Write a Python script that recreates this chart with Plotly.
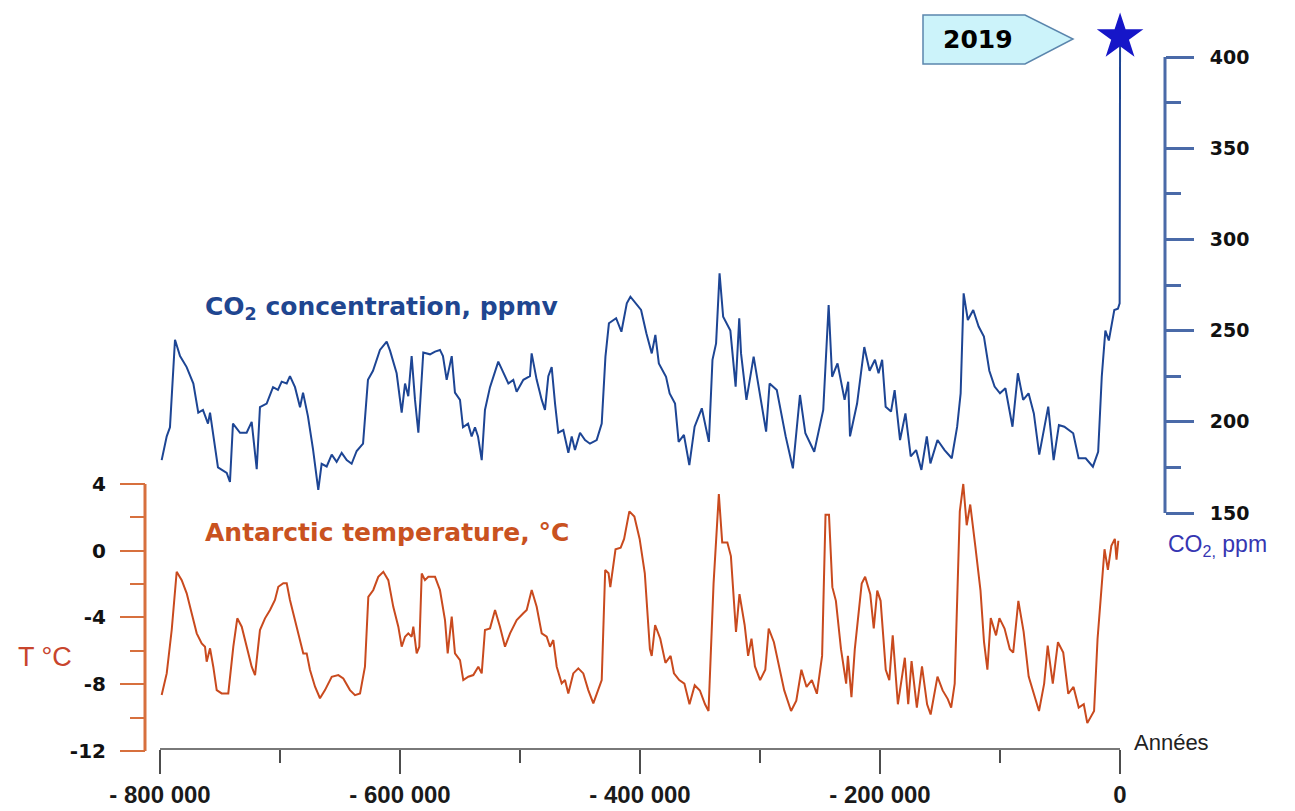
import plotly.graph_objects as go

# ---------------------------------------------------------------------------
# Data: ice-core records, age in thousands of years relative to present
# ---------------------------------------------------------------------------
co2_kyr = [
    -798.6, -794.4, -791.7, -787.5, -783.3, -777.8, -772.2, -768.1, -764.2, -760,
    -758.3, -755.8, -751.7, -744.4, -741.7, -739.2, -733.3, -727.8, -723.6, -719.4,
    -716.7, -711.1, -705.8, -701.7, -698.6, -694.4, -691.7, -687.5, -683.3, -680.8,
    -676.7, -672.5, -668.1, -665.3, -661.1, -656.9, -652.8, -648.6, -644.4, -640.3,
    -636.1, -630.8, -626.7, -622.5, -616.7, -611.1, -608.3, -602.8, -598.6, -595.8,
    -593.1, -590.3, -587.5, -584.7, -580.6, -575, -570.8, -566.7, -564.2, -561.1,
    -556.9, -554.2, -550, -547.5, -543.3, -540.3, -537.5, -535, -531.9, -529.2,
    -525, -518.1, -513.9, -509.7, -505.6, -502.8, -497.2, -491.7, -490.3, -486.1,
    -481.9, -479.2, -476.4, -473.6, -470.8, -468.1, -463.9, -459.7, -456.9, -454.2,
    -450, -445.8, -441.7, -436.1, -431.9,
    -428.8, -425.9, -419.9, -415.5, -411, -408, -403.6, -399.1, -394.7, -390.2,
    -387.2, -384.3, -378.3, -375.3, -370.8, -367.8, -363.4, -358.9, -354.5, -348.5,
    -342.6, -339.6, -336.6, -333.7, -330.7, -324.7, -320.3, -317.3, -315.8, -311.3,
    -305.3, -302.4, -294.9, -292, -286, -278.6, -272.6, -266.7, -262.2, -254.8,
    -247.3, -242.8, -239.9, -235.4, -229.5, -226.5, -225, -219.1, -213.1, -208.7,
    -204.2, -201.2, -198.2, -195.3, -190.8, -187.8, -183.3, -178.8, -174.4, -169.9,
    -165.5, -161, -158, -152.1, -146.2, -140.2, -135.7, -132.8, -130.3, -126.8,
    -122.3, -117.8, -113.4, -108.9, -104.5, -100, -95.5, -89.6, -85.1, -80.7,
    -76.2, -71.8, -67.3, -59.8, -55.3, -50.9, -46.4, -39, -34.5, -28.6,
    -22.6, -18.2, -15.2, -12.2, -9.3, -4.75, -1.75, -0.3, 0.069,
]
co2_ppm = [
    179, 192, 197, 245, 236, 230, 221, 205, 206.5, 199,
    205, 194, 175, 172, 167, 199, 194, 194, 200, 174,
    208, 210, 219, 217.5, 222, 221, 225, 219, 208, 216,
    203, 185, 162.7, 177, 175.5, 182, 178, 183, 179, 177,
    184, 188, 223, 228, 239.4, 244, 239, 226.6, 205, 221,
    214, 236, 212, 194, 238, 237, 238.5, 239.4, 236, 223,
    236, 216, 212, 197, 199, 192, 197, 192, 179, 206.5,
    219, 233, 226.6, 221, 223, 216.5, 223, 225, 237.5, 223,
    212, 206.5, 225, 230, 210, 194, 195.5, 183, 192, 184.5,
    194, 190, 188, 190, 199,
    235.7, 254, 256.8, 249.4, 265, 268.6, 265, 261.3, 248.5, 237.5,
    247.6, 232, 224.7, 215.6, 210, 189, 192.8, 176.3, 197.3, 207.4,
    189, 234, 243, 281.4, 257.6, 250, 219.3, 256.8, 237.5, 212,
    235.7, 224.7, 194.6, 221, 217.4, 192, 174.5, 214.7, 193.7, 183.6,
    206.5, 264, 224.7, 232, 212, 222, 192, 210, 241, 228,
    234, 226.6, 234, 208.3, 205.6, 217.4, 190, 204.6, 181, 184.5,
    173.6, 192, 177.2, 190, 184.5, 180, 197.3, 215.6, 270.4, 255.8,
    261.3, 252.2, 246.7, 228, 219.3, 215.6, 218.4, 197.3, 226.6, 212,
    215.6, 204.6, 182, 208.3, 179, 198.2, 197.3, 193.7, 180, 180,
    175.4, 183.6, 224.7, 250, 244.6, 261.3, 262, 265, 411,
]

temp_kyr = [
    -798.6, -794.4, -790.25, -786.1, -781.9, -777.75, -773.6, -769.4, -765.25, -762.5,
    -761.1, -758.3, -755.6, -752.75, -748.6, -743.1, -738.9, -735.6, -731.9, -727.75,
    -723.6, -720.8, -716.7, -712.5, -708.3, -704.2, -701.4, -697.25, -694.4, -691.7,
    -687.5, -683.3, -680.6, -677.75, -675, -670.8, -666.7, -662.5, -656.9, -651.4,
    -647.25, -641.7, -637.5, -633.3, -629.2, -626.4, -622.25, -618.1, -613.9, -609.75,
    -605.6, -601.4, -598.6, -595.8, -593.1, -590.25, -588.9, -586.1, -583.9, -581.9,
    -579.2, -576.4, -570.8, -566.7, -562.5, -560.25, -556.9, -554.2, -550, -547.25,
    -543.1, -538.9, -534.75, -531.9, -529.2, -525, -520.8, -516.7, -512.5, -508.3,
    -502.75, -497.25, -494.4, -490.25, -486.1, -481.9, -477.75, -475, -472.25, -469.4,
    -465.25, -462.5, -459.75, -455.6, -451.4, -447.25, -443.1, -438.9, -434.75, -431.9,
    -429, -426.2, -424.75, -420.4, -416.1, -413.25, -408.9, -404.7, -400.3, -396,
    -391.75, -390.25, -387.4, -383.1, -378.8, -374.5, -371.7, -367.3, -363, -358.75,
    -354.4, -350.1, -345.8, -342.9, -338.7, -334.3, -331.5, -327.2, -324.25, -320,
    -317.1, -312.8, -309.9, -307.1, -304.2, -299.9, -295.6, -292.75, -288.4, -284.1,
    -279.8, -274.1, -269.75, -265.5, -261.2, -256.8, -252.6, -248.25, -245.4, -242.5,
    -239.7, -236.75, -232.5, -228.2, -226.75, -223.8, -221, -215.25, -212.4, -208.1,
    -205.2, -202.3, -199.5, -195.2, -192.25, -189.4, -185.1, -179.3, -176.5, -173.7,
    -169.3, -165, -160.75, -157.8, -152.1, -147.8, -143.5, -140.7, -137.75, -133.5,
    -130.6, -127.75, -124.8, -120.6, -116.25, -113.3, -110.5, -107.7, -103.3, -100.5,
    -96.2, -91.8, -89, -84.7, -80.3, -76.1, -71.75, -67.5, -63.2, -60.25,
    -56, -51.7, -47.3, -43.1, -38.75, -34.4, -30.2, -27.25, -21.6, -18.7,
    -15.8, -12.9, -10.1, -7.2, -4.3, -2.9, -1.4,
]
temp_c = [
    -8.65, -7.35, -4.75, -1.26, -1.76, -2.55, -3.75, -4.95, -5.55, -5.75,
    -6.65, -5.85, -6.95, -8.35, -8.55, -8.55, -5.75, -4.05, -4.55, -5.75,
    -6.95, -7.45, -4.75, -4.05, -3.55, -2.95, -2.16, -1.95, -1.95, -2.95,
    -4.15, -5.35, -6.15, -6.15, -7.15, -8.15, -8.84, -8.35, -7.55, -7.45,
    -7.65, -8.35, -8.65, -8.55, -6.95, -2.76, -2.35, -1.56, -1.26, -1.76,
    -3.36, -4.55, -5.75, -5.15, -4.95, -5.15, -4.55, -6.15, -5.75, -1.36,
    -1.76, -1.56, -1.56, -2.35, -4.15, -6.15, -3.95, -6.15, -6.55, -7.75,
    -7.55, -7.45, -6.95, -7.35, -4.75, -4.65, -3.55, -4.55, -5.75, -4.95,
    -4.15, -3.75, -3.55, -2.35, -3.36, -4.95, -5.15, -5.75, -5.35, -6.95,
    -7.95, -7.75, -8.55, -7.35, -7.05, -7.35, -8.35, -9.15, -8.35, -7.75,
    -1.15, -1.35, -2.18, 0.09, 0.19, 0.71, 2.36, 2.05, 0.71, -1.35,
    -5.9, -6.3, -4.45, -5.27, -6.72, -6.3, -7.34, -7.75, -7.96, -9.2,
    -8.06, -8.37, -9.2, -9.6, -1.97, 3.39, 0.5, 0.5, -0.32, -4.86,
    -2.6, -4.45, -6.3, -5.27, -6.93, -7.75, -7.13, -4.66, -5.48, -6.93,
    -8.37, -9.6, -8.99, -7.13, -8.16, -7.75, -8.57, -6.3, 2.15, 2.15,
    -2.18, -3.0, -5.9, -7.96, -6.3, -8.78, -5.9, -1.97, -1.56, -2.6,
    -4.66, -2.39, -3.0, -7.13, -7.75, -5.07, -9.2, -6.41, -9.2, -6.61,
    -9.4, -6.93, -9.2, -9.81, -7.54, -8.37, -8.89, -9.4, -7.96, 2.36,
    4.0, 1.53, 2.77, 0.29, -2.39, -5.48, -7.13, -4.04, -5.07, -4.04,
    -4.66, -5.9, -6.1, -3.0, -4.86, -7.54, -8.57, -9.6, -7.96, -5.69,
    -7.96, -5.48, -6.1, -8.57, -8.16, -9.4, -9.2, -10.33, -9.6, -5.27,
    -2.6, 0.09, -1.15, 0.29, 0.71, -0.53, 0.6,
]

year_ticks = [-800000, -600000, -400000, -200000, 0]
year_ticktext = ["- 800 000", "- 600 000", "- 400 000", "- 200 000", "0"]
year_minor = [-700000, -500000, -300000, -100000]
temp_ticks = [-12, -8, -4, 0, 4]
temp_minor = [-10, -6, -2, 2]
co2_ticks = [150, 200, 250, 300, 350, 400]
co2_minor = [175, 225, 275, 325, 375]

# ---------------------------------------------------------------------------
# Layout geometry (pixels of the 1295 x 811 page)
# ---------------------------------------------------------------------------
W, H = 1295, 811


def fx(p):
    return p / W


def fy(p):
    return 1 - p / H


X_LEFT_PX, X_ZERO_PX = 160, 1120
px_per_year = (X_ZERO_PX - X_LEFT_PX) / 800000
X_PAD = 4000
x_range = [-800000, X_PAD]
x_domain = [fx(X_LEFT_PX), fx(X_ZERO_PX + X_PAD * px_per_year)]
X_AXIS_PX = 749

T_BOTTOM_PX, T_TOP_PX = 751, 484          # -12 and +4
px_per_deg = (T_BOTTOM_PX - T_TOP_PX) / 16
T_TOP_RANGE = 4.6
t_domain = [fy(T_BOTTOM_PX), fy(T_BOTTOM_PX - (T_TOP_RANGE + 12) * px_per_deg)]
T_AXIS_PX = 145

C_BOTTOM_PX, C_TOP_PX = 513, 57           # 150 and 400 ppm
px_per_ppm = (C_BOTTOM_PX - C_TOP_PX) / 250
C_TOP_RANGE = 425
c_domain = [fy(C_BOTTOM_PX), fy(C_BOTTOM_PX - (C_TOP_RANGE - 150) * px_per_ppm)]
C_AXIS_PX = 1165

CO2_LINE = "#1d4594"
TEMP_LINE = "#c94a1e"
TEMP_AXIS = "#d7703e"
CO2_AXIS = "#4a6aa8"
X_AXIS = "#4d4d4d"

co2_years = [k * 1000 for k in co2_kyr]
temp_years = [k * 1000 for k in temp_kyr]

fig = go.Figure()

fig.add_trace(go.Scatter(
    x=temp_years, y=temp_c, xaxis="x", yaxis="y",
    mode="lines", line=dict(color=TEMP_LINE, width=2),
    hoverinfo="skip", showlegend=False,
))
fig.add_trace(go.Scatter(
    x=co2_years, y=co2_ppm, xaxis="x", yaxis="y2",
    mode="lines", line=dict(color=CO2_LINE, width=2),
    hoverinfo="skip", showlegend=False,
))
# present-day value marked with a star
fig.add_trace(go.Scatter(
    x=[co2_years[-1]], y=[co2_ppm[-1]], xaxis="x", yaxis="y2",
    mode="markers", cliponaxis=False,
    marker=dict(symbol="star", size=35, color="#1616c8", line=dict(width=0)),
    hoverinfo="skip", showlegend=False,
))

fig.update_layout(
    width=W, height=H, autosize=False,
    margin=dict(l=0, r=0, t=0, b=0, pad=0, autoexpand=False),
    paper_bgcolor="white", plot_bgcolor="rgba(0,0,0,0)",
    showlegend=False,
    xaxis=dict(
        domain=x_domain, range=x_range, anchor="free", position=fy(X_AXIS_PX),
        automargin=False,
        showline=False, showgrid=False, zeroline=False,
        tickmode="array", tickvals=year_ticks, ticktext=year_ticktext,
        ticks="outside", ticklen=24, tickwidth=1.5, tickcolor=X_AXIS,
        ticklabelstandoff=0,
        tickfont=dict(family="Liberation Sans", size=24, color="#1a1a1a", weight="bold"),
        minor=dict(tickmode="array", tickvals=year_minor, ticks="outside",
                   ticklen=13, tickwidth=1.5, tickcolor=X_AXIS),
    ),
    yaxis=dict(
        domain=t_domain, range=[-12, T_TOP_RANGE], anchor="free", position=fx(T_AXIS_PX),
        automargin=False,
        side="left", showline=False, showgrid=False, zeroline=False,
        tickmode="array", tickvals=temp_ticks, ticktext=[str(v) for v in temp_ticks],
        ticks="outside", ticklen=25, tickwidth=2, tickcolor=TEMP_AXIS,
        ticklabelstandoff=10,
        tickfont=dict(family="DejaVu Sans", size=20, color="#111111", weight="bold"),
        minor=dict(tickmode="array", tickvals=temp_minor, ticks="outside",
                   ticklen=15, tickwidth=2, tickcolor=TEMP_AXIS),
    ),
    yaxis2=dict(
        domain=c_domain, range=[150, C_TOP_RANGE], anchor="free", position=fx(C_AXIS_PX),
        automargin=False,
        side="right", showline=False, showgrid=False, zeroline=False,
        tickmode="array", tickvals=co2_ticks, ticktext=[str(v) for v in co2_ticks],
        ticks="outside", ticklen=28, tickwidth=2.5, tickcolor=CO2_AXIS,
        ticklabelstandoff=12,
        tickfont=dict(family="DejaVu Sans", size=19, color="#111111", weight="bold"),
        minor=dict(tickmode="array", tickvals=co2_minor, ticks="outside",
                   ticklen=15, tickwidth=2.5, tickcolor=CO2_AXIS),
    ),
)

# axis spines, limited to the labelled span of each scale
fig.add_shape(type="line", xref="x", yref="paper",
              x0=year_ticks[0], x1=year_ticks[-1], y0=fy(X_AXIS_PX), y1=fy(X_AXIS_PX),
              line=dict(color=X_AXIS, width=1.5))
fig.add_shape(type="line", xref="paper", yref="y",
              x0=fx(T_AXIS_PX), x1=fx(T_AXIS_PX), y0=temp_ticks[0], y1=temp_ticks[-1],
              line=dict(color=TEMP_AXIS, width=3))
fig.add_shape(type="line", xref="paper", yref="y2",
              x0=fx(C_AXIS_PX), x1=fx(C_AXIS_PX), y0=co2_ticks[0], y1=co2_ticks[-1],
              line=dict(color=CO2_AXIS, width=3))

# "2019" arrow tag next to the star
tag = [(923, 15), (1025, 15), (1073, 39), (1025, 64), (923, 64)]
path = "M " + " L ".join(f"{fx(x):.5f},{fy(y):.5f}" for x, y in tag) + " Z"
fig.add_shape(type="path", xref="paper", yref="paper", path=path,
              fillcolor="#ccf3fa", line=dict(color="#5b86ad", width=1.5))

ann = [
    dict(text="2019", x=fx(978), y=fy(39), xanchor="center", yanchor="middle",
         font=dict(family="DejaVu Sans", size=25, color="black", weight="bold")),
    dict(text="CO<sub>2</sub> concentration, ppmv", x=fx(203), y=fy(308),
         xanchor="left", yanchor="middle",
         font=dict(family="DejaVu Sans", size=25, color="#1f4690", weight="bold")),
    dict(text="Antarctic temperature, °C", x=fx(203), y=fy(532),
         xanchor="left", yanchor="middle",
         font=dict(family="DejaVu Sans", size=25, color="#c9521f", weight="bold")),
    dict(text="T °C", x=fx(16), y=fy(657), xanchor="left", yanchor="middle",
         font=dict(family="Liberation Sans", size=27, color="#c8452d")),
    dict(text="Années", x=fx(1132), y=fy(742), xanchor="left", yanchor="middle",
         font=dict(family="Liberation Sans", size=22, color="#222222")),
    dict(text="CO<sub>2,</sub> ppm", x=fx(1166), y=fy(545), xanchor="left", yanchor="middle",
         font=dict(family="Liberation Sans", size=23, color="#3636b2")),
]
for a in ann:
    fig.add_annotation(xref="paper", yref="paper", showarrow=False, **a)

fig.write_html("out.html")
